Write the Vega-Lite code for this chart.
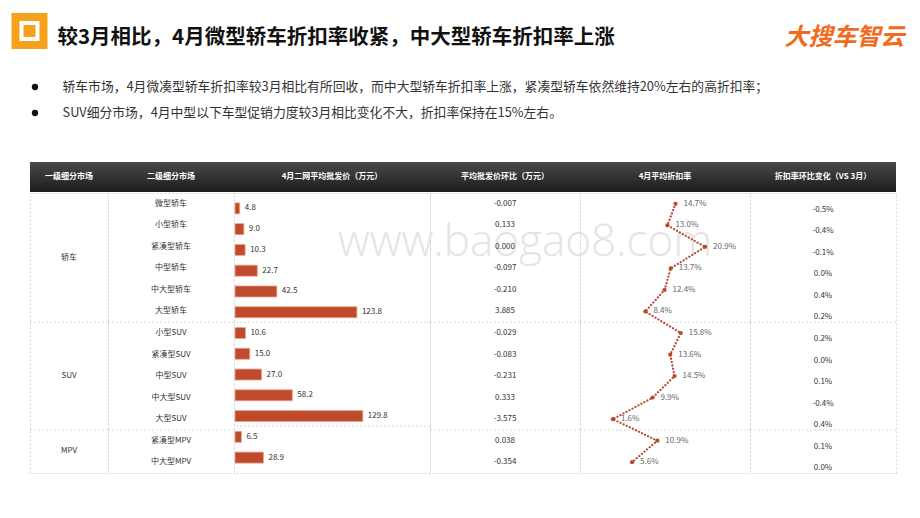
{
  "$schema": "https://vega.github.io/schema/vega-lite/v6.json",
  "background": "white",
  "autosize": {"type": "none"},
  "padding": {"left": 12, "top": 19, "right": 908, "bottom": 499},
  "spacing": 0,
  "config": {
    "view": {"stroke": null},
    "concat": {"spacing": 0},
    "font": "Noto Sans CJK SC",
    "locale": {"number": {"decimal": ".", "thousands": ",", "grouping": [3], "currency": ["", ""], "minus": "-", "percent": "%"}}
  },
  "datasets": {
    "t": [
      {"i": 0, "grp": "轿车", "seg": "微型轿车", "price": 4.8, "chg": -0.007, "rate": 0.147, "rc": -0.005},
      {"i": 1, "grp": "轿车", "seg": "小型轿车", "price": 9.0, "chg": 0.133, "rate": 0.130, "rc": -0.004},
      {"i": 2, "grp": "轿车", "seg": "紧凑型轿车", "price": 10.3, "chg": 0.000, "rate": 0.209, "rc": -0.001},
      {"i": 3, "grp": "轿车", "seg": "中型轿车", "price": 22.7, "chg": -0.097, "rate": 0.137, "rc": 0.000},
      {"i": 4, "grp": "轿车", "seg": "中大型轿车", "price": 42.5, "chg": -0.210, "rate": 0.124, "rc": 0.004},
      {"i": 5, "grp": "轿车", "seg": "大型轿车", "price": 123.8, "chg": 3.885, "rate": 0.084, "rc": 0.002},
      {"i": 6, "grp": "SUV", "seg": "小型SUV", "price": 10.6, "chg": -0.029, "rate": 0.158, "rc": 0.002},
      {"i": 7, "grp": "SUV", "seg": "紧凑型SUV", "price": 15.0, "chg": -0.083, "rate": 0.136, "rc": 0.000},
      {"i": 8, "grp": "SUV", "seg": "中型SUV", "price": 27.0, "chg": -0.231, "rate": 0.145, "rc": 0.001},
      {"i": 9, "grp": "SUV", "seg": "中大型SUV", "price": 58.2, "chg": 0.333, "rate": 0.099, "rc": -0.004},
      {"i": 10, "grp": "SUV", "seg": "大型SUV", "price": 129.8, "chg": -3.575, "rate": 0.016, "rc": 0.004},
      {"i": 11, "grp": "MPV", "seg": "紧凑型MPV", "price": 6.5, "chg": 0.038, "rate": 0.109, "rc": 0.001},
      {"i": 12, "grp": "MPV", "seg": "中大型MPV", "price": 28.9, "chg": -0.354, "rate": 0.056, "rc": 0.000}
    ],
    "bullets": [
      {"n": 1, "txt": "轿车市场，4月微凑型轿车折扣率较3月相比有所回收，而中大型轿车折扣率上涨，紧凑型轿车依然维持20%左右的高折扣率；"},
      {"n": 2, "txt": "SUV细分市场，4月中型以下车型促销力度较3月相比变化不大，折扣率保持在15%左右。"}
    ]
  },
  "vconcat": [
    {
      "bounds": "flush",
      "spacing": 10,
      "hconcat": [
        {
          "width": 35, "height": 38,
          "data": {"values": [{"k": "icon"}]},
          "layer": [
            {"mark": {"type": "point", "shape": "square", "filled": false, "stroke": "#f6a11b", "strokeWidth": 8, "size": 784, "yOffset": -7, "opacity": 1}, "encoding": {}},
            {"mark": {"type": "point", "shape": "square", "filled": true, "color": "#f6a11b", "size": 144, "yOffset": -7, "opacity": 1}, "encoding": {}}
          ]
        },
        {
          "width": 1, "height": 38,
          "data": {"values": [{"title": "较3月相比，4月微型轿车折扣率收紧，中大型轿车折扣率上涨"}]},
          "mark": {"type": "text", "align": "left", "baseline": "middle", "fontSize": 20.5, "fontWeight": "bold", "color": "#111111"},
          "encoding": {"text": {"field": "title"}}
        },
        {"width": 826, "height": 38, "data": {"values": []}, "mark": "text"},
        {
          "width": 1, "height": 38,
          "data": {"values": [{"logo": "大搜车智云"}]},
          "mark": {"type": "text", "align": "right", "baseline": "middle", "fontSize": 24, "fontWeight": "bold", "fontStyle": "italic", "color": "#f26a1b"},
          "encoding": {"text": {"field": "logo"}}
        }
      ]
    },
    {"width": 1, "height": 13, "data": {"values": []}, "mark": "text"},
    {
      "bounds": "flush",
      "spacing": 4,
      "hconcat": [
        {
          "width": 46, "height": 52,
          "data": {"name": "bullets"},
          "mark": {"type": "point", "shape": "circle", "filled": true, "color": "#111111", "size": 40, "opacity": 1},
          "encoding": {"y": {"field": "n", "type": "ordinal", "axis": null, "scale": {"type": "point"}}}
        },
        {
          "width": 1, "height": 52,
          "data": {"name": "bullets"},
          "mark": {"type": "text", "align": "left", "baseline": "middle", "fontSize": 12.8, "color": "#333333"},
          "encoding": {
            "y": {"field": "n", "type": "ordinal", "axis": null, "scale": {"type": "point"}},
            "text": {"field": "txt"}
          }
        }
      ]
    },
    {"width": 1, "height": 36, "data": {"values": []}, "mark": "text"},
    {
      "bounds": "flush",
      "spacing": 0,
      "hconcat": [
        {"width": 18, "height": 30, "data": {"values": []}, "mark": "text"},
        {"width": 78, "height": 30, "data": {"values": [{"h": "一级细分市场"}]}, "layer": [
          {"mark": {"type": "rect", "color": {"gradient": "linear", "x1": 0, "y1": 0, "x2": 0, "y2": 1, "stops": [{"offset": 0, "color": "#4a4a4a"}, {"offset": 1, "color": "#1c1c1c"}]}}, "encoding": {}},
          {"mark": {"type": "text", "color": "white", "fontSize": 8, "fontWeight": "bold"}, "encoding": {"text": {"field": "h"}}}
        ]},
        {"width": 126, "height": 30, "data": {"values": [{"h": "二级细分市场"}]}, "layer": [
          {"mark": {"type": "rect", "color": {"gradient": "linear", "x1": 0, "y1": 0, "x2": 0, "y2": 1, "stops": [{"offset": 0, "color": "#4a4a4a"}, {"offset": 1, "color": "#1c1c1c"}]}}, "encoding": {}},
          {"mark": {"type": "text", "color": "white", "fontSize": 8, "fontWeight": "bold"}, "encoding": {"text": {"field": "h"}}}
        ]},
        {"width": 196, "height": 30, "data": {"values": [{"h": "4月二网平均批发价（万元）"}]}, "layer": [
          {"mark": {"type": "rect", "color": {"gradient": "linear", "x1": 0, "y1": 0, "x2": 0, "y2": 1, "stops": [{"offset": 0, "color": "#4a4a4a"}, {"offset": 1, "color": "#1c1c1c"}]}}, "encoding": {}},
          {"mark": {"type": "text", "color": "white", "fontSize": 8, "fontWeight": "bold"}, "encoding": {"text": {"field": "h"}}}
        ]},
        {"width": 150, "height": 30, "data": {"values": [{"h": "平均批发价环比（万元）"}]}, "layer": [
          {"mark": {"type": "rect", "color": {"gradient": "linear", "x1": 0, "y1": 0, "x2": 0, "y2": 1, "stops": [{"offset": 0, "color": "#4a4a4a"}, {"offset": 1, "color": "#1c1c1c"}]}}, "encoding": {}},
          {"mark": {"type": "text", "color": "white", "fontSize": 8, "fontWeight": "bold"}, "encoding": {"text": {"field": "h"}}}
        ]},
        {"width": 170, "height": 30, "data": {"values": [{"h": "4月平均折扣率"}]}, "layer": [
          {"mark": {"type": "rect", "color": {"gradient": "linear", "x1": 0, "y1": 0, "x2": 0, "y2": 1, "stops": [{"offset": 0, "color": "#4a4a4a"}, {"offset": 1, "color": "#1c1c1c"}]}}, "encoding": {}},
          {"mark": {"type": "text", "color": "white", "fontSize": 8, "fontWeight": "bold"}, "encoding": {"text": {"field": "h"}}}
        ]},
        {"width": 146, "height": 30, "data": {"values": [{"h": "折扣率环比变化（VS 3月）"}]}, "layer": [
          {"mark": {"type": "rect", "color": {"gradient": "linear", "x1": 0, "y1": 0, "x2": 0, "y2": 1, "stops": [{"offset": 0, "color": "#4a4a4a"}, {"offset": 1, "color": "#1c1c1c"}]}}, "encoding": {}},
          {"mark": {"type": "text", "color": "white", "fontSize": 8, "fontWeight": "bold"}, "encoding": {"text": {"field": "h"}}}
        ]}
      ]
    },
    {
      "bounds": "flush",
      "spacing": 0,
      "hconcat": [
        {"width": 18, "height": 280, "data": {"values": []}, "mark": "text"},
        {
          "width": 78, "height": 280, "data": {"name": "t"},
          "view": {"stroke": "#d6d6d6", "strokeDash": [2, 2]},
          "layer": [
            {"transform": [{"filter": "datum.grp != '轿车'"}], "mark": {"type": "rule", "yOffset": -10.77, "color": "#d6d6d6", "strokeDash": [2, 2]}, "encoding": {"y": {"aggregate": "min", "field": "i", "type": "quantitative", "axis": null, "scale": {"domain": [-0.5, 12.5], "reverse": true, "nice": false, "zero": false}}, "detail": {"field": "grp"}}},
            {"mark": {"type": "text", "fontSize": 8, "color": "#333333"}, "encoding": {"y": {"aggregate": "mean", "field": "i", "type": "quantitative", "axis": null, "scale": {"domain": [-0.5, 12.5], "reverse": true, "nice": false, "zero": false}}, "text": {"field": "grp"}}}
          ]
        },
        {
          "width": 126, "height": 280, "data": {"name": "t"},
          "view": {"stroke": "#d6d6d6", "strokeDash": [2, 2]},
          "layer": [
            {"transform": [{"filter": "datum.grp != '轿车'"}], "mark": {"type": "rule", "yOffset": -10.77, "color": "#d6d6d6", "strokeDash": [2, 2]}, "encoding": {"y": {"aggregate": "min", "field": "i", "type": "quantitative", "axis": null, "scale": {"domain": [-0.5, 12.5], "reverse": true, "nice": false, "zero": false}}, "detail": {"field": "grp"}}},
            {"mark": {"type": "text", "fontSize": 8, "color": "#333333"}, "encoding": {"y": {"field": "i", "type": "quantitative", "axis": null, "scale": {"domain": [-0.5, 12.5], "reverse": true, "nice": false, "zero": false}}, "text": {"field": "seg"}}}
          ]
        },
        {
          "width": 196, "height": 280, "data": {"name": "t"},
          "view": {"stroke": "#d6d6d6", "strokeDash": [2, 2]},
          "layer": [
            {"transform": [{"filter": "datum.grp != '轿车'"}], "mark": {"type": "rule", "yOffset": -10.77, "color": "#d6d6d6", "strokeDash": [2, 2]}, "encoding": {"y": {"aggregate": "min", "field": "i", "type": "quantitative", "axis": null, "scale": {"domain": [-0.5, 12.5], "reverse": true, "nice": false, "zero": false}}, "detail": {"field": "grp"}}},
            {"mark": {"type": "bar", "orient": "horizontal", "size": 11, "color": "#bf4a2c", "stroke": "#eba690", "strokeWidth": 0.8}, "encoding": {
              "y": {"field": "i", "type": "quantitative", "axis": null, "scale": {"domain": [-0.5, 12.5], "reverse": true, "nice": false, "zero": false}},
              "x": {"field": "price", "type": "quantitative", "axis": null, "scale": {"domain": [-1, 198], "nice": false, "zero": false}}
            }},
            {"mark": {"type": "text", "align": "left", "dx": 5, "fontSize": 8, "color": "#333333"}, "encoding": {
              "y": {"field": "i", "type": "quantitative", "axis": null, "scale": {"domain": [-0.5, 12.5], "reverse": true, "nice": false, "zero": false}},
              "x": {"field": "price", "type": "quantitative", "axis": null, "scale": {"domain": [-1, 198], "nice": false, "zero": false}},
              "text": {"field": "price", "format": ".1f"}
            }}
          ]
        },
        {
          "width": 150, "height": 280, "data": {"name": "t"},
          "view": {"stroke": "#d6d6d6", "strokeDash": [2, 2]},
          "layer": [
            {"data": {"values": [{"w": "www.baogao8.com"}]}, "mark": {"type": "text", "font": "Open Sans", "fontWeight": 300, "fontSize": 44, "color": "#e4e4e4", "dx": 20}, "encoding": {"y": {"datum": 1.8, "type": "quantitative", "axis": null, "scale": {"domain": [-0.5, 12.5], "reverse": true, "nice": false, "zero": false}}, "text": {"field": "w"}}},
            {"transform": [{"filter": "datum.grp != '轿车'"}], "mark": {"type": "rule", "yOffset": -10.77, "color": "#d6d6d6", "strokeDash": [2, 2]}, "encoding": {"y": {"aggregate": "min", "field": "i", "type": "quantitative", "axis": null, "scale": {"domain": [-0.5, 12.5], "reverse": true, "nice": false, "zero": false}}, "detail": {"field": "grp"}}},
            {"mark": {"type": "text", "fontSize": 8, "color": "#333333"}, "encoding": {"y": {"field": "i", "type": "quantitative", "axis": null, "scale": {"domain": [-0.5, 12.5], "reverse": true, "nice": false, "zero": false}}, "text": {"field": "chg", "format": ".3f"}}}
          ]
        },
        {
          "width": 170, "height": 280, "data": {"name": "t"},
          "view": {"stroke": "#d6d6d6", "strokeDash": [2, 2]},
          "layer": [
            {"transform": [{"filter": "datum.grp != '轿车'"}], "mark": {"type": "rule", "yOffset": -10.77, "color": "#d6d6d6", "strokeDash": [2, 2]}, "encoding": {"y": {"aggregate": "min", "field": "i", "type": "quantitative", "axis": null, "scale": {"domain": [-0.5, 12.5], "reverse": true, "nice": false, "zero": false}}, "detail": {"field": "grp"}}},
            {"mark": {"type": "line", "color": "#b84a30", "strokeWidth": 2.2, "strokeDash": [0.1, 3.3], "strokeCap": "round"}, "encoding": {
              "y": {"field": "i", "type": "quantitative", "axis": null, "scale": {"domain": [-0.5, 12.5], "reverse": true, "nice": false, "zero": false}},
              "x": {"field": "rate", "type": "quantitative", "axis": null, "scale": {"domain": [-0.053, 0.303], "nice": false, "zero": false}},
              "order": {"field": "i", "type": "quantitative"}
            }},
            {"mark": {"type": "point", "filled": true, "size": 18, "color": "#b84a30", "opacity": 1}, "encoding": {
              "y": {"field": "i", "type": "quantitative", "axis": null, "scale": {"domain": [-0.5, 12.5], "reverse": true, "nice": false, "zero": false}},
              "x": {"field": "rate", "type": "quantitative", "axis": null, "scale": {"domain": [-0.053, 0.303], "nice": false, "zero": false}}
            }},
            {"mark": {"type": "text", "align": "left", "dx": 8, "fontSize": 8, "color": "#666666"}, "encoding": {
              "y": {"field": "i", "type": "quantitative", "axis": null, "scale": {"domain": [-0.5, 12.5], "reverse": true, "nice": false, "zero": false}},
              "x": {"field": "rate", "type": "quantitative", "axis": null, "scale": {"domain": [-0.053, 0.303], "nice": false, "zero": false}},
              "text": {"field": "rate", "format": ".1%"}
            }}
          ]
        },
        {
          "width": 146, "height": 280, "data": {"name": "t"},
          "view": {"stroke": "#d6d6d6", "strokeDash": [2, 2]},
          "layer": [
            {"transform": [{"filter": "datum.grp != '轿车'"}], "mark": {"type": "rule", "yOffset": -10.77, "color": "#d6d6d6", "strokeDash": [2, 2]}, "encoding": {"y": {"aggregate": "min", "field": "i", "type": "quantitative", "axis": null, "scale": {"domain": [-0.5, 12.5], "reverse": true, "nice": false, "zero": false}}, "detail": {"field": "grp"}}},
            {"mark": {"type": "text", "fontSize": 8, "color": "#333333", "dy": 6}, "encoding": {"y": {"field": "i", "type": "quantitative", "axis": null, "scale": {"domain": [-0.5, 12.5], "reverse": true, "nice": false, "zero": false}}, "text": {"field": "rc", "format": ".1%"}}}
          ]
        }
      ]
    }
  ]
}
